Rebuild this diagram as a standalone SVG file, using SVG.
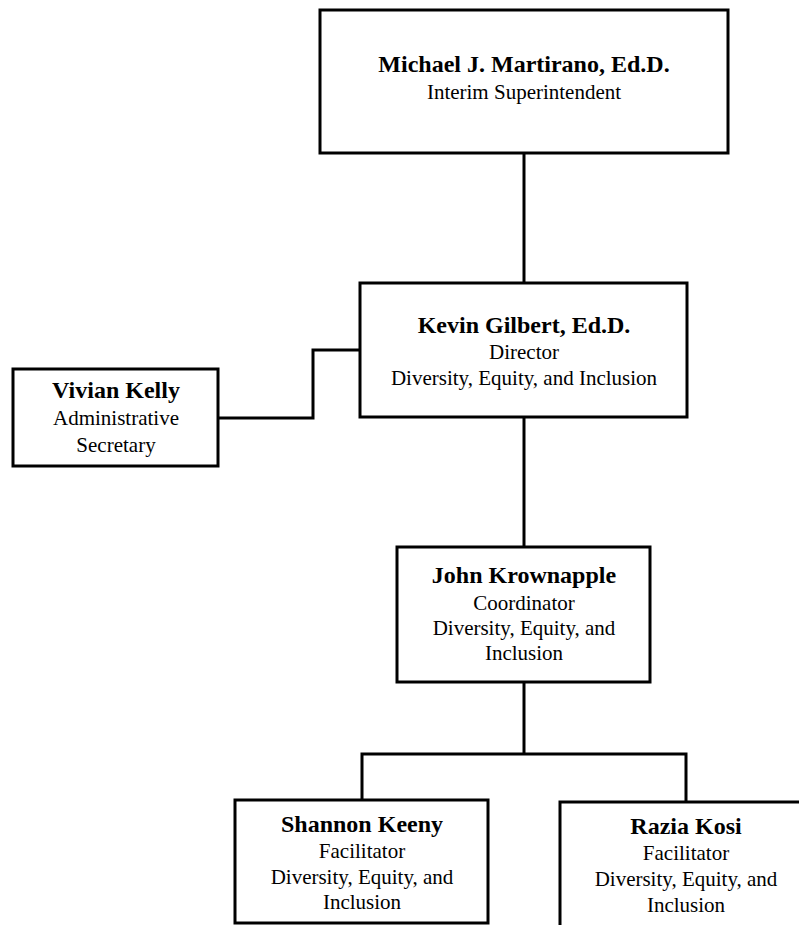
<svg xmlns="http://www.w3.org/2000/svg" width="799" height="925" viewBox="0 0 799 925">
<style>
.box{fill:#fff;stroke:#000;stroke-width:3}
.ln{fill:none;stroke:#000;stroke-width:3}
text{font-family:"Liberation Serif","Times New Roman",serif;fill:#000;text-anchor:middle}
.n{font-weight:bold;font-size:24px}
.t{font-size:21px}
</style>
<rect width="799" height="925" fill="#fff"/>
<g id="connectors">
<line class="ln" x1="524" y1="153" x2="524" y2="283"/>
<polyline class="ln" points="218,418 313,418 313,350 360,350"/>
<line class="ln" x1="524" y1="417" x2="524" y2="547"/>
<line class="ln" x1="524" y1="682" x2="524" y2="754"/>
<polyline class="ln" points="362,800 362,754 686,754 686,802"/>
</g>
<g id="martirano">
<rect class="box" x="320" y="10" width="408" height="143"/>
<text class="n" x="524" y="72">Michael J. Martirano, Ed.D.</text>
<text class="t" x="524" y="99">Interim Superintendent</text>
</g>
<g id="gilbert">
<rect class="box" x="360" y="283" width="327" height="134"/>
<text class="n" x="524" y="333">Kevin Gilbert, Ed.D.</text>
<text class="t" x="524" y="359">Director</text>
<text class="t" x="524" y="385">Diversity, Equity, and Inclusion</text>
</g>
<g id="kelly">
<rect class="box" x="13" y="369" width="205" height="97"/>
<text class="n" x="116" y="398">Vivian Kelly</text>
<text class="t" x="116" y="425">Administrative</text>
<text class="t" x="116" y="452">Secretary</text>
</g>
<g id="krownapple">
<rect class="box" x="397" y="547" width="253" height="135"/>
<text class="n" x="524" y="583">John Krownapple</text>
<text class="t" x="524" y="610">Coordinator</text>
<text class="t" x="524" y="635">Diversity, Equity, and</text>
<text class="t" x="524" y="660">Inclusion</text>
</g>
<g id="keeny">
<rect class="box" x="235" y="800" width="253" height="123"/>
<text class="n" x="362" y="832">Shannon Keeny</text>
<text class="t" x="362" y="858">Facilitator</text>
<text class="t" x="362" y="884">Diversity, Equity, and</text>
<text class="t" x="362" y="909">Inclusion</text>
</g>
<g id="kosi">
<rect class="box" x="560" y="802" width="260" height="140"/>
<text class="n" x="686" y="834">Razia Kosi</text>
<text class="t" x="686" y="860">Facilitator</text>
<text class="t" x="686" y="886">Diversity, Equity, and</text>
<text class="t" x="686" y="912">Inclusion</text>
</g>
</svg>
